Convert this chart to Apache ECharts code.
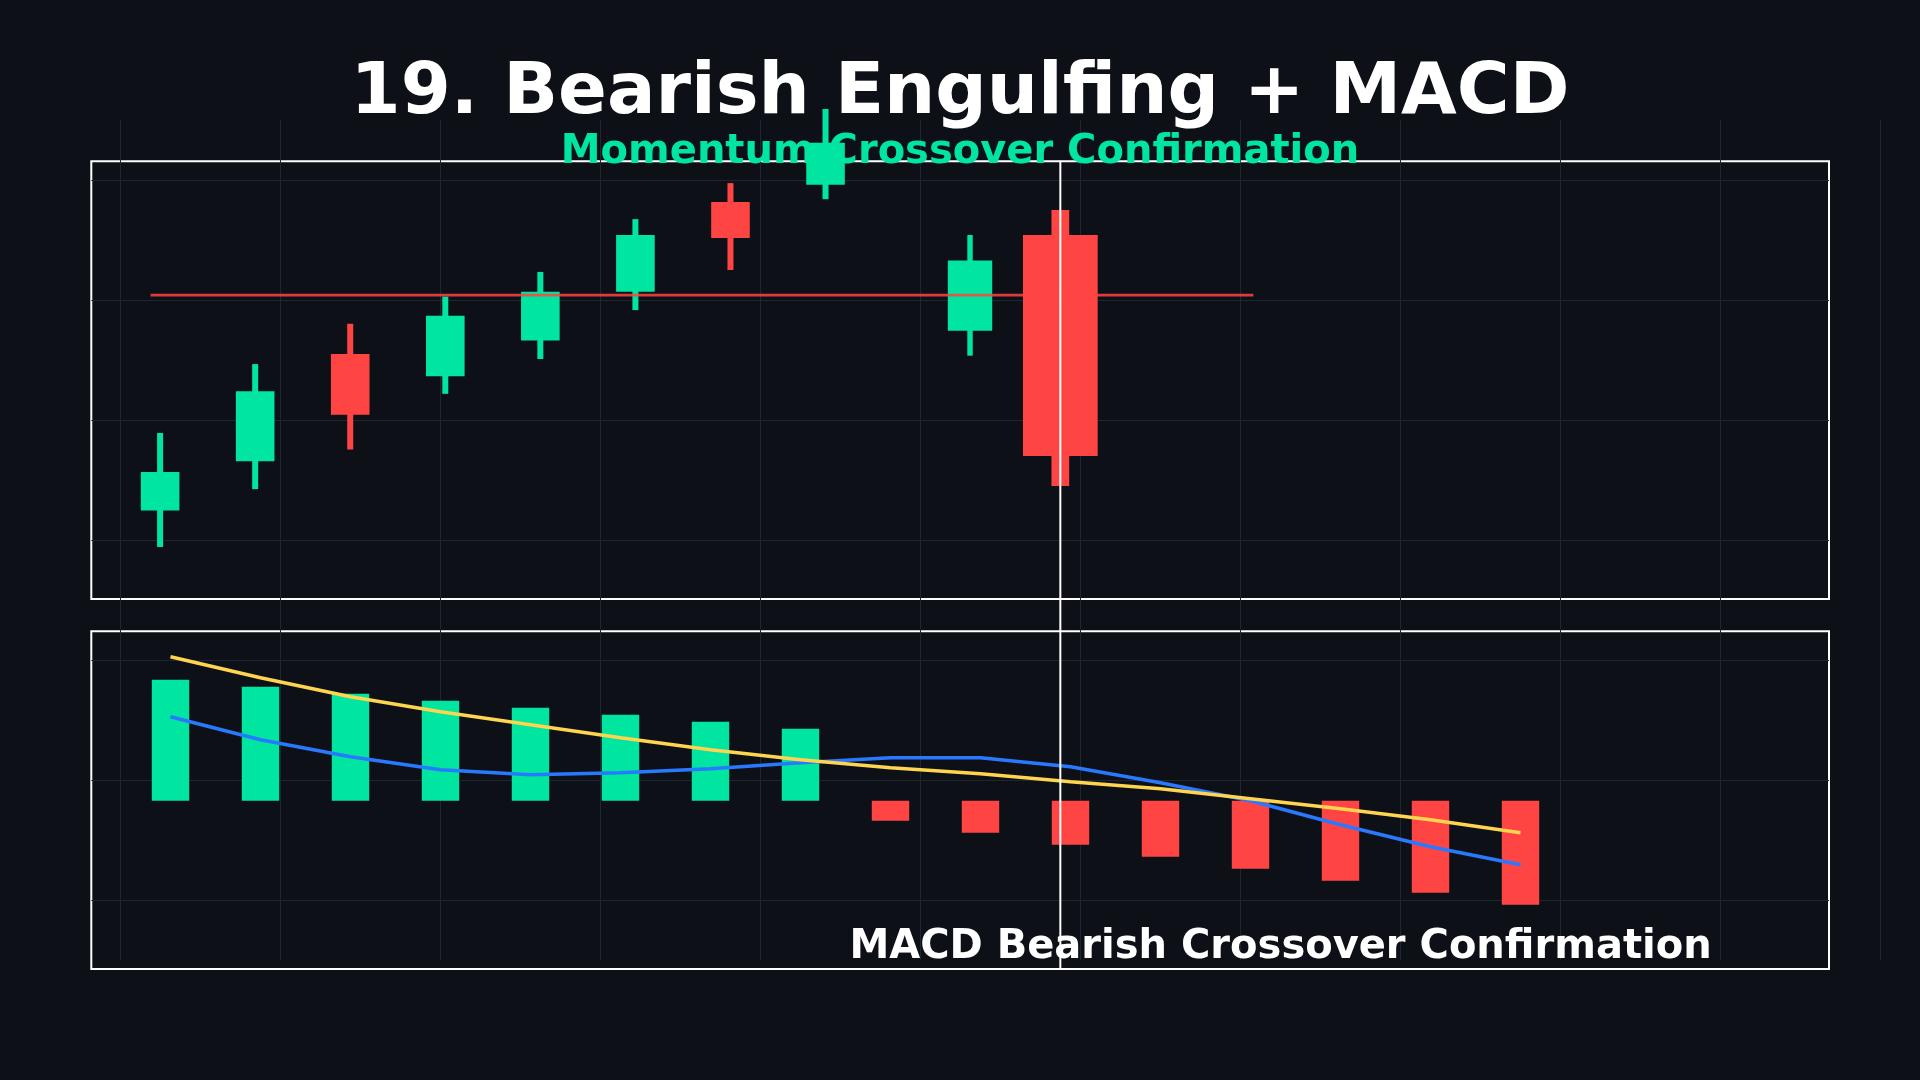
<!DOCTYPE html>
<html>
<head>
<meta charset="utf-8">
<title>Bearish Engulfing + MACD</title>
<script src="https://cdn.jsdelivr.net/npm/echarts@6/dist/echarts.min.js"></script>
<style>
  html, body { margin: 0; padding: 0; background: #0d1117; }
  #main { width: 1920px; height: 1080px; }
</style>
</head>
<body>
<div id="main"></div>
<script>
// price candles (x = bar position)
var candleX = [0, 1, 2, 3, 4, 5, 6, 7, 8.52, 9.47]
var opens = [96.23, 98.28, 102.75, 101.82, 103.31, 105.34, 109.08, 109.80, 103.72, 107.71]
var closes = [97.83, 101.20, 100.22, 104.34, 105.34, 107.71, 107.58, 111.55, 106.65, 98.50]
var lows = [94.71, 97.12, 98.77, 101.09, 102.54, 104.58, 106.25, 109.20, 102.68, 97.25]
var highs = [99.46, 102.33, 104.01, 105.14, 106.17, 108.37, 109.87, 112.96, 107.71, 108.75]

// resistance level and signal bar
var resistance = 105.2
var resistanceRange = [-0.1, 11.5]
var signalX = 9.47

// MACD panel
var macdIndex = [0, 1, 2, 3, 4, 5, 6, 7, 8, 9, 10, 11, 12, 13, 14, 15]
var histogram = [1.21, 1.14, 1.07, 1.00, 0.93, 0.86, 0.79, 0.72, -0.20, -0.32, -0.44, -0.56, -0.68, -0.80, -0.92, -1.04]
var macdLine = [0.84, 0.61, 0.44, 0.31, 0.26, 0.28, 0.32, 0.38, 0.43, 0.43, 0.34, 0.18, 0.00, -0.24, -0.46, -0.64]
var signalLine = [1.44, 1.23, 1.04, 0.89, 0.76, 0.63, 0.51, 0.41, 0.33, 0.27, 0.19, 0.12, 0.02, -0.08, -0.19, -0.32]

var GREEN = '#00e5a0'
var RED = '#ff4444'
var GRID_LINE = '#1e2632'
var FONT = 'DejaVu Sans'

// pattern candles are drawn wider
var normalSize = { body: 38.6, wick: 6 }
var patternSize = { 8: { body: 44.4, wick: 5.4 }, 9: { body: 74.7, wick: 17.7 } }

var chart = echarts.init(document.getElementById('main'))

function hiddenAxis(idx, extra) {
  return Object.assign({
    type: 'value',
    gridIndex: idx,
    show: false,
    splitLine: { show: false }
  }, extra || {})
}

var option = {
  backgroundColor: '#0d1117',
  animation: false,
  title: [
    {
      text: '19. Bearish Engulfing + MACD',
      left: 'center',
      top: 58,
      padding: 0,
      z: 1,
      textStyle: { color: '#ffffff', fontSize: 72, fontWeight: 'bold', fontFamily: FONT }
    },
    {
      text: 'Momentum Crossover Confirmation',
      left: 'center',
      top: 132.3,
      padding: 0,
      z: 1,
      textStyle: { color: GREEN, fontSize: 40, fontWeight: 'bold', fontFamily: FONT }
    },
    {
      text: 'MACD Bearish Crossover Confirmation',
      left: 849.5,
      top: 928,
      padding: 0,
      z: 1,
      textStyle: { color: '#ffffff', fontSize: 40, fontWeight: 'bold', fontFamily: FONT }
    }
  ],
  grid: [
    // background vertical grid
    { left: 120, top: 120, width: 1760, height: 840 },
    // horizontal grid lines inside the panels
    { left: 91.3, top: 180, width: 1737.7, height: 720 },
    // price panel frame
    { left: 91.3, top: 161.3, width: 1737.7, height: 437.7, show: true, borderColor: '#ffffff', borderWidth: 2, backgroundColor: 'transparent' },
    // MACD panel frame
    { left: 91.3, top: 631.3, width: 1737.7, height: 337.7, show: true, borderColor: '#ffffff', borderWidth: 2, backgroundColor: 'transparent' },
    // candles
    { left: 65.04, top: 180, width: 1711.1, height: 360 },
    // MACD
    { left: 80.5, top: 640.7, width: 1620, height: 320 }
  ],
  xAxis: [
    {
      type: 'value', gridIndex: 0, min: 0, max: 11, interval: 1,
      axisLine: { show: false }, axisTick: { show: false }, axisLabel: { show: false },
      splitLine: { show: true, lineStyle: { color: GRID_LINE, width: 1 } }
    },
    hiddenAxis(1, { min: 0, max: 1 }),
    hiddenAxis(2, { min: 0, max: 1 }),
    hiddenAxis(3, { min: 0, max: 1 }),
    hiddenAxis(4, { min: -1, max: 17 }),
    hiddenAxis(5, { min: -1, max: 17 })
  ],
  yAxis: [
    hiddenAxis(0, { min: 0, max: 1 }),
    {
      type: 'value', gridIndex: 1, min: 0, max: 6, interval: 1,
      axisLine: { show: false }, axisTick: { show: false }, axisLabel: { show: false },
      splitLine: { show: true, lineStyle: { color: GRID_LINE, width: 1 } }
    },
    hiddenAxis(2, { min: 0, max: 1 }),
    hiddenAxis(3, { min: 0, max: 1 }),
    hiddenAxis(4, { min: 95, max: 110 }),
    hiddenAxis(5, { min: -1.6, max: 1.6 })
  ],
  series: [
    {
      type: 'custom',
      name: 'Price',
      xAxisIndex: 4,
      yAxisIndex: 4,
      clip: false,
      z: 3,
      encode: { x: 0, y: [1, 2, 3, 4] },
      data: candleX.map(function (x, i) {
        return [x, opens[i], closes[i], lows[i], highs[i]]
      }),
      renderItem: function (params, api) {
        var i = params.dataIndex
        var x = api.value(0)
        var o = api.value(1)
        var c = api.value(2)
        var s = patternSize[i] || normalSize
        var top = api.coord([x, Math.max(o, c)])
        var bot = api.coord([x, Math.min(o, c)])
        var hi = api.coord([x, api.value(4)])
        var lo = api.coord([x, api.value(3)])
        var color = c >= o ? GREEN : RED
        return {
          type: 'group',
          children: [
            { type: 'rect', shape: { x: hi[0] - s.wick / 2, y: hi[1], width: s.wick, height: lo[1] - hi[1] }, style: { fill: color } },
            { type: 'rect', shape: { x: top[0] - s.body / 2, y: top[1], width: s.body, height: bot[1] - top[1] }, style: { fill: color } }
          ]
        }
      }
    },
    {
      type: 'line',
      name: 'Resistance',
      xAxisIndex: 4,
      yAxisIndex: 4,
      z: 4,
      symbol: 'none',
      clip: false,
      lineStyle: { color: RED, width: 2.7, opacity: 0.85 },
      data: resistanceRange.map(function (x) { return [x, resistance] })
    },
    {
      type: 'line',
      name: 'Signal bar',
      xAxisIndex: 4,
      yAxisIndex: 4,
      z: 10,
      symbol: 'none',
      clip: false,
      lineStyle: { color: '#ffffff', width: 2 },
      data: [[signalX, 110.8], [signalX, 77.1]]
    },
    {
      type: 'bar',
      name: 'Histogram',
      xAxisIndex: 5,
      yAxisIndex: 5,
      barWidth: 37.4,
      z: 2,
      data: macdIndex.map(function (x, i) { return [x, histogram[i]] }),
      itemStyle: {
        color: function (p) { return p.value[1] >= 0 ? GREEN : RED }
      }
    },
    {
      type: 'line',
      name: 'MACD',
      xAxisIndex: 5,
      yAxisIndex: 5,
      z: 3,
      symbol: 'none',
      lineStyle: { color: '#2979ff', width: 3.6 },
      data: macdIndex.map(function (x, i) { return [x, macdLine[i]] })
    },
    {
      type: 'line',
      name: 'Signal',
      xAxisIndex: 5,
      yAxisIndex: 5,
      z: 4,
      symbol: 'none',
      lineStyle: { color: '#ffd54f', width: 3.6 },
      data: macdIndex.map(function (x, i) { return [x, signalLine[i]] })
    }
  ]
}

chart.setOption(option)
</script>
</body>
</html>
